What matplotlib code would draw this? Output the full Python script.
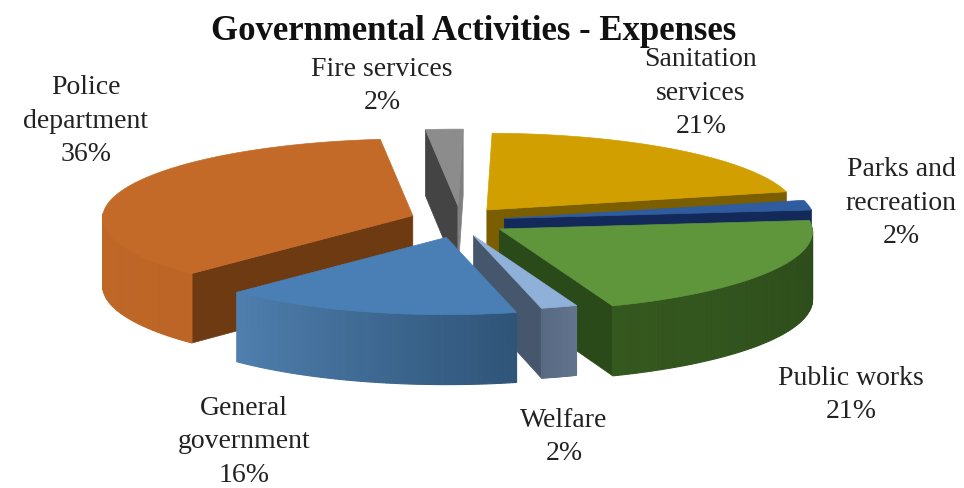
import numpy as np
import matplotlib
matplotlib.use('Agg')
from matplotlib import pyplot as plt
from matplotlib.patches import Polygon
from matplotlib.colors import to_rgb

title = 'Governmental Activities - Expenses'
names = ['Sanitation\nservices', 'Parks and\nrecreation', 'Public works', 'Welfare',
         'General\ngovernment', 'Police\ndepartment', 'Fire services']
values = [21, 2, 21, 2, 16, 36, 2]

# slice styling, same order as values
top_colors = ['#d19f00', '#2f5c9e', '#5f963c', '#8fb0d8', '#4a7fb5', '#c46a28', '#8c8c8c']
wall_from = ['#a87f00', '#1f3f70', '#2b4a19', '#62748e', '#2f5478', '#bd6526', '#777777']
wall_to = ['#6e5400', '#142a50', '#35581f', '#586a82', '#4f7fae', '#c46c2a', '#444444']
cut_start = ['#7a5e00', '#1b3560', '#2b4a19', '#46566c', '#2c4f74', '#6e3a12', '#444444']
cut_end = ['#7a5e00', '#12295a', '#2b4a19', '#46566c', '#2c4f74', '#6e3a12', '#7f7f7f']
explode = [43, 45, 46, 46, 51, 50, 46]
scale = [1.0, 1.0, 1.01, 0.92, 0.95, 1.0, 1.0]

label_x = [701, 901, 851, 564, 244, 86, 382]
label_y = [93, 203, 395, 437, 442, 121, 86]

# pie geometry in pixels
cx, cy = 460, 222
rx, ry = 310, 79
persp = 0.03
depth = 68
start = 1.0
explode_y = 1.3

def project(t, r):
    u = r * np.sin(np.radians(t))
    v = -r * np.cos(np.radians(t))
    w = 1 - persp * v
    return rx * u / w, ry * v / w, depth / w

def draw_slice(i, t0, t1, z):
    mid = (t0 + t1) / 2
    ox, oy, _ = project(mid, explode[i] / rx)
    tip = np.array([cx + ox, cy + oy * explode_y])
    ts = np.linspace(t0, t1, 80)
    px, py, pd = project(ts, scale[i])
    px, py = px + tip[0], py + tip[1]
    # only the cut faces turned to the viewer
    if np.sin(np.radians(t0)) < 0:
        ax.add_patch(Polygon([tip, (px[0], py[0]), (px[0], py[0] + pd[0]), (tip[0], tip[1] + depth)],
                             fc=cut_start[i], ec=cut_start[i], lw=0.5, zorder=z))
    if np.sin(np.radians(t1)) > 0:
        ax.add_patch(Polygon([tip, (px[-1], py[-1]), (px[-1], py[-1] + pd[-1]), (tip[0], tip[1] + depth)],
                             fc=cut_end[i], ec=cut_end[i], lw=0.5, zorder=z))
    # outer wall, drawn as thin strips for the shading
    c0 = np.array(to_rgb(wall_from[i]))
    c1 = np.array(to_rgb(wall_to[i]))
    for k in range(len(ts) - 1):
        if np.cos(np.radians(ts[k])) > 0.02:
            continue
        f = k / (len(ts) - 2)
        c = c0 * (1 - f) + c1 * f
        ax.add_patch(Polygon([(px[k], py[k]), (px[k + 1], py[k + 1]),
                              (px[k + 1], py[k + 1] + pd[k + 1]), (px[k], py[k] + pd[k])],
                             fc=c, ec=c, lw=0.8, zorder=z))
    ax.add_patch(Polygon(np.vstack([tip, np.column_stack([px, py])]),
                         fc=top_colors[i], ec=top_colors[i], lw=0.5, zorder=z + 0.5))

plt.rcParams['font.family'] = ['Liberation Serif', 'DejaVu Serif']

fig = plt.figure(figsize=(9.64, 4.89), dpi=100)
ax = fig.add_axes([0, 0, 1, 1])
ax.set_xlim(0, 964)
ax.set_ylim(489, 0)
ax.axis('off')

edges = start + np.cumsum([0] + values) * 3.6
# painter order, back slices first
for z, i in enumerate([5, 6, 0, 1, 2, 3, 4]):
    draw_slice(i, edges[i], edges[i + 1], z)

for name, val, x, y in zip(names, values, label_x, label_y):
    ax.text(x, y, '%s\n%d%%' % (name, val), ha='center', va='center', fontsize=20,
            color='#222222', linespacing=1.46, zorder=20)
ax.text(474, 31, title, ha='center', va='center', fontsize=25, fontweight='bold',
        color='#111111', zorder=20)

fig.savefig('out.png', dpi=100)
